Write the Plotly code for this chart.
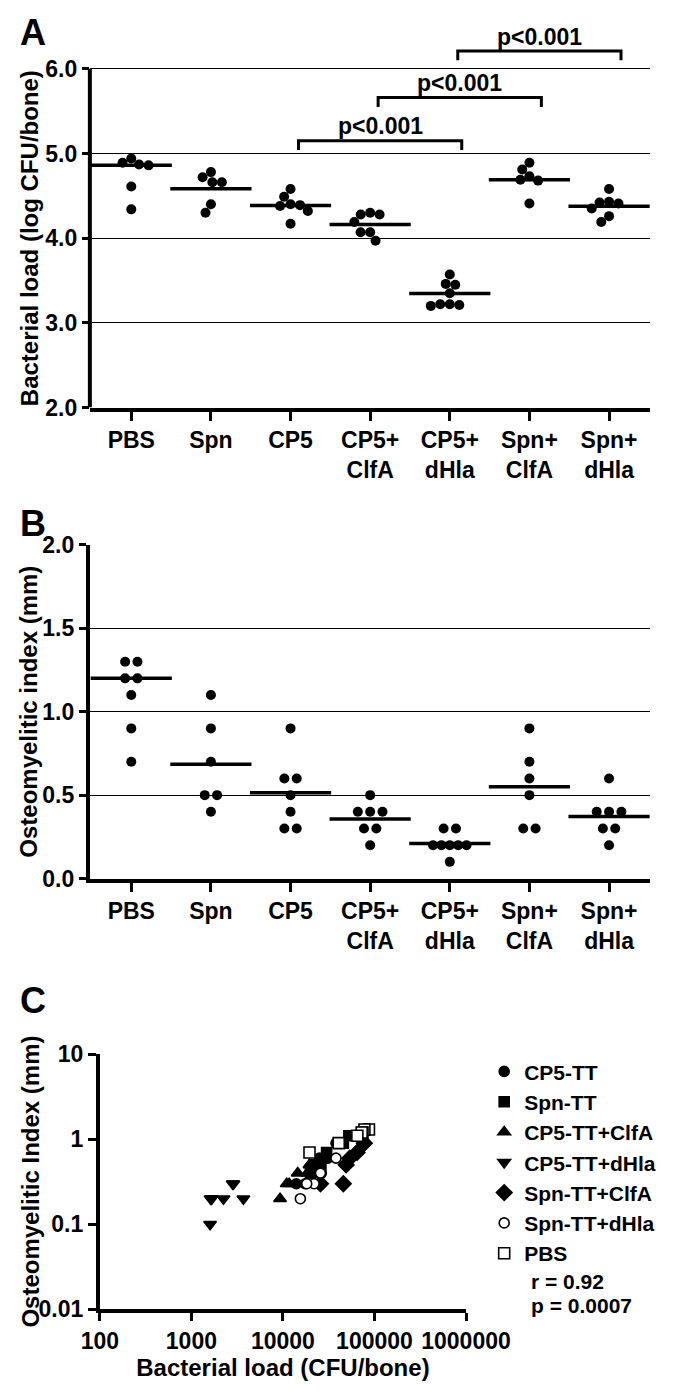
import numpy as np
import plotly.graph_objects as go

# ---------------- data ----------------
categories = ["PBS", "Spn", "CP5", "CP5+<br>ClfA", "CP5+<br>dHla", "Spn+<br>ClfA", "Spn+<br>dHla"]

# Panel A: bacterial load (log CFU/bone)
load_pbs = [4.94, 4.87, 4.89, 4.86, 4.61, 4.34]
load_spn = [4.78, 4.66, 4.66, 4.72, 4.30, 4.40]
load_cp5 = [4.58, 4.49, 4.40, 4.39, 4.38, 4.32, 4.17]
load_cp5_clfa = [4.30, 4.28, 4.28, 4.19, 4.07, 4.07, 3.97]
load_cp5_dhla = [3.57, 3.45, 3.46, 3.35, 3.22, 3.20, 3.21, 3.22]
load_spn_clfa = [4.89, 4.81, 4.69, 4.73, 4.68, 4.41]
load_spn_dhla = [4.58, 4.41, 4.43, 4.42, 4.35, 4.26, 4.19]
load_lines = [4.86, 4.585, 4.385, 4.16, 3.345, 4.69, 4.377]

# Panel A significance brackets
bracket_pairs = [(2, 4), (3, 5), (4, 6)]
bracket_levels = [5.15, 5.66, 6.21]
bracket_labels = ["p<0.001", "p<0.001", "p<0.001"]

# Panel B: osteomyelitic index (mm)
os_pbs = [1.3, 1.3, 1.2, 1.2, 1.1, 0.9, 0.7]
os_spn = [1.1, 0.9, 0.7, 0.5, 0.5, 0.4]
os_cp5 = [0.9, 0.6, 0.6, 0.5, 0.4, 0.3, 0.3]
os_cp5_clfa = [0.5, 0.4, 0.4, 0.4, 0.3, 0.3, 0.2]
os_cp5_dhla = [0.3, 0.3, 0.2, 0.2, 0.2, 0.2, 0.2, 0.1]
os_spn_clfa = [0.9, 0.7, 0.6, 0.5, 0.3, 0.3]
os_spn_dhla = [0.6, 0.4, 0.4, 0.4, 0.3, 0.3, 0.2]
os_lines = [1.2, 0.685, 0.515, 0.357, 0.21, 0.55, 0.372]

# Panel C: correlation (CFU/bone vs osteomyelitic index)
c_names = ["CP5-TT", "Spn-TT", "CP5-TT+ClfA", "CP5-TT+dHla", "Spn-TT+ClfA", "Spn-TT+dHla", "PBS"]
cx_cp5 = [38000, 30900, 25100, 24500, 20900, 14000, 17500]
cy_cp5 = [0.9, 0.6, 0.6, 0.5, 0.4, 0.3, 0.3]
cx_spn = [52500, 45700, 30000, 26000, 22000, 20000]
cy_spn = [1.1, 0.9, 0.7, 0.5, 0.5, 0.4]
cx_cp5_clfa = [9300, 11000, 11700, 14500, 18500, 19500, 20500]
cy_cp5_clfa = [0.2, 0.3, 0.3, 0.4, 0.4, 0.5, 0.4]
cx_cp5_dhla = [1660, 1600, 1620, 2240, 2820, 2880, 3700, 1660]
cy_cp5_dhla = [0.2, 0.1, 0.2, 0.2, 0.3, 0.3, 0.2, 0.2]
cx_spn_clfa = [77600, 64600, 53700, 49000, 45700, 25700]
cy_spn_clfa = [0.9, 0.7, 0.6, 0.5, 0.3, 0.3]
cx_spn_dhla = [38000, 25100, 26300, 25700, 21900, 18200, 15500]
cy_spn_dhla = [0.6, 0.4, 0.4, 0.4, 0.3, 0.3, 0.2]
cx_pbs = [87000, 77600, 74000, 72400, 65000, 40700, 19500]
cy_pbs = [1.3, 1.3, 1.2, 1.2, 1.1, 0.9, 0.7]
c_stats = ["r = 0.92", "p = 0.0007"]

c_xticks = [100, 1000, 10000, 100000, 1000000]
c_xtext = ["100", "1000", "10000", "100000", "1000000"]
c_yticks = [0.01, 0.1, 1, 10]
c_ytext = ["0.01", "0.1", "1", "10"]

# ---------------- geometry helpers ----------------
W, H = 700, 1394
FONT = "Liberation Sans, Arial, Helvetica, sans-serif"


def py(p):
    return 1 - p / H


def swarm(vals, px_per_unit, px_per_cat, diam):
    """simple beeswarm: horizontal offsets (category units) avoiding overlap"""
    vals = np.asarray(vals, float)
    order = np.argsort(-vals, kind="stable")
    placed = []
    offs = np.zeros(len(vals))
    for i in order:
        y = vals[i] * px_per_unit
        intervals = []
        for (px, pyy) in placed:
            dy = abs(pyy - y)
            if dy < diam:
                h = np.sqrt(diam ** 2 - dy ** 2)
                intervals.append((px - h, px + h))
        cands = [0.0] + [e for iv in intervals for e in iv]
        cands.sort(key=lambda c: (abs(c), c))
        for c in cands:
            if all(not (a + 1e-6 < c < b - 1e-6) for a, b in intervals):
                offs[i] = c
                break
        placed.append((offs[i], y))
    return offs / px_per_cat


def rows(vals):
    """row-centred offsets for discrete values (category units)"""
    vals = np.asarray(vals, float)
    offs = np.zeros(len(vals))
    for v in np.unique(vals):
        idx = np.where(np.isclose(vals, v))[0]
        n = len(idx)
        d = 0.155 if n <= 3 else 0.105
        for k, i in enumerate(idx):
            offs[i] = (k - (n - 1) / 2) * d
    return offs


fig = go.Figure()

load_groups = [load_pbs, load_spn, load_cp5, load_cp5_clfa, load_cp5_dhla, load_spn_clfa, load_spn_dhla]
os_groups = [os_pbs, os_spn, os_cp5, os_cp5_clfa, os_cp5_dhla, os_spn_clfa, os_spn_dhla]

dot = dict(color="black", size=10)
meanline = dict(symbol="line-ew", size=58, color="black", line=dict(width=3.5, color="black"))

# ---- panel A ----
for i, g in enumerate(load_groups):
    xo = i + swarm(g, 86.5, 87.6, 10.5)
    fig.add_trace(go.Scatter(x=xo, y=g, mode="markers", marker=dot, xaxis="x", yaxis="y",
                             showlegend=False, hoverinfo="y"))
fig.add_trace(go.Scatter(x=list(range(len(categories))), y=load_lines, mode="markers",
                         marker=meanline, xaxis="x", yaxis="y", showlegend=False))
for (a, b), lvl, lab in zip(bracket_pairs, bracket_levels, bracket_labels):
    xa, xb = a + 0.1, b + 0.15
    fig.add_trace(go.Scatter(x=[xa, xa, xb, xb], y=[lvl - 0.11, lvl, lvl, lvl - 0.11], mode="lines",
                             line=dict(color="black", width=3), xaxis="x", yaxis="y",
                             showlegend=False, hoverinfo="skip"))
    fig.add_annotation(x=(xa + xb) / 2, y=lvl + 0.17, xref="x", yref="y", text=lab, showarrow=False,
                       font=dict(size=23, family=FONT, color="black", weight="bold"), yanchor="middle")

# ---- panel B ----
for i, g in enumerate(os_groups):
    xo = i + rows(g)
    fig.add_trace(go.Scatter(x=xo, y=g, mode="markers", marker=dot, xaxis="x2", yaxis="y2",
                             showlegend=False, hoverinfo="y"))
fig.add_trace(go.Scatter(x=list(range(len(categories))), y=os_lines, mode="markers",
                         marker=meanline, xaxis="x2", yaxis="y2", showlegend=False))

# ---- panel C ----
c_x = [cx_cp5, cx_spn, cx_cp5_clfa, cx_cp5_dhla, cx_spn_clfa, cx_spn_dhla, cx_pbs]
c_y = [cy_cp5, cy_spn, cy_cp5_clfa, cy_cp5_dhla, cy_spn_clfa, cy_spn_dhla, cy_pbs]
c_symbols = ["circle", "square", "triangle-up", "triangle-down", "diamond", "circle", "square"]
c_fill = ["black", "black", "black", "black", "black", "white", "white"]
c_size = [10, 10, 11, 11, 12, 10, 11]
for k in range(len(c_names)):
    fig.add_trace(go.Scatter(
        x=c_x[k], y=c_y[k], mode="markers", name=c_names[k], xaxis="x3", yaxis="y3",
        marker=dict(symbol=c_symbols[k], size=c_size[k], color=c_fill[k],
                    line=dict(color="black", width=1.6))))

# ---------------- layout ----------------
tickfont = dict(size=23, family=FONT, color="black", weight="bold")
cat_text = [f"{c}" for c in categories]

A_top, A_bot = 13.75, 402   # range top 6.5 -> 6.0 gridline at ~57 px
B_top, B_bot = 542, 882
C_top, C_bot = 1061, 1321

cat_axis = dict(range=[-0.52, 6.52], tickmode="array", tickvals=list(range(len(categories))),
                ticktext=cat_text, ticks="outside", ticklen=9, tickwidth=3, tickcolor="black",
                showline=True, linewidth=4, linecolor="black", showgrid=False, zeroline=False,
                tickfont=tickfont, domain=[78 / W, 695 / W], fixedrange=True)

fig.update_layout(
    width=W, height=H, margin=dict(l=0, r=0, t=0, b=0),
    plot_bgcolor="white", paper_bgcolor="white",
    font=dict(family=FONT, size=22, color="black", weight="bold"),
    xaxis=dict(cat_axis, anchor="y"),
    yaxis=dict(domain=[py(A_bot), py(A_top)], anchor="x", range=[2, 6.5],
               tickmode="array", tickvals=[2, 3, 4, 5, 6], tickformat=".1f",
               ticks="outside", ticklen=7, tickwidth=3, tickcolor="black",
               showline=False, showgrid=True, gridcolor="black", gridwidth=1.4,
               zeroline=False, tickfont=tickfont),
    xaxis2=dict(cat_axis, anchor="y2"),
    yaxis2=dict(domain=[py(B_bot), py(B_top)], anchor="x2", range=[0, 2],
                tickmode="array", tickvals=[0, 0.5, 1.0, 1.5, 2.0], tickformat=".1f",
                ticks="outside", ticklen=7, tickwidth=3, tickcolor="black",
                showline=True, linewidth=4, linecolor="black",
                showgrid=True, gridcolor="black", gridwidth=1.4,
                zeroline=False, tickfont=tickfont),
    xaxis3=dict(domain=[89 / W, 492 / W], anchor="y3", type="log", range=[2, 6],
                tickmode="array", tickvals=c_xticks, ticktext=c_xtext,
                ticks="outside", ticklen=8, tickwidth=3, tickcolor="black",
                showline=True, linewidth=4, linecolor="black", showgrid=False, zeroline=False,
                tickfont=tickfont,
                title=dict(text="Bacterial load (CFU/bone)", font=dict(size=24, family=FONT, weight="bold"),
                           standoff=4)),
    yaxis3=dict(domain=[py(C_bot), py(C_top)], anchor="x3", type="log", range=[-2, 1],
                tickmode="array", tickvals=c_yticks, ticktext=c_ytext,
                ticks="outside", ticklen=8, tickwidth=3, tickcolor="black",
                showline=True, linewidth=4, linecolor="black", showgrid=False, zeroline=False,
                tickfont=tickfont),
    legend=dict(x=512 / W, y=py(1058), xanchor="left", yanchor="top",
                font=dict(size=21, family=FONT, weight="bold"), bgcolor="rgba(0,0,0,0)",
                tracegroupgap=0, itemsizing="trace"),
)

# panel A vertical axis line only between 2 and 6
fig.add_shape(type="line", xref="x domain", yref="y", x0=0, x1=0, y0=2, y1=6,
              line=dict(color="black", width=4))

# axis titles (rotated) and panel letters
title_font = dict(size=24, family=FONT, weight="bold")
fig.add_annotation(x=11 / W, y=4, xref="paper", yref="y", text="Bacterial load (log CFU/bone)",
                   textangle=-90, showarrow=False, xanchor="center", yanchor="middle", font=title_font)
fig.add_annotation(x=11 / W, y=1.0, xref="paper", yref="y2", text="Osteomyelitic index (mm)",
                   textangle=-90, showarrow=False, xanchor="center", yanchor="middle", font=title_font)
fig.add_annotation(x=13 / W, y=-0.5, xref="paper", yref="y3", text="Osteomyelitic Index (mm)",
                   textangle=-90, showarrow=False, xanchor="center", yanchor="middle", font=title_font)
for letter, top in zip(["A", "B", "C"], [-2, 498, 984]):
    fig.add_annotation(x=0, y=py(top), xref="paper", yref="paper", text=letter, xanchor="left",
                       yanchor="top", showarrow=False, borderpad=0,
                       font=dict(size=36, family=FONT, weight="bold"))

# stats text in panel C
for k, s in enumerate(c_stats):
    fig.add_annotation(x=561 / W, y=py(1293 + 24 * k), xref="paper", yref="paper", text=s,
                       xanchor="left", yanchor="middle", showarrow=False,
                       font=dict(size=21, family=FONT, weight="bold"))

fig.write_html("out.html", post_script="document.body.style.margin='0';",
               config={"displayModeBar": False})
